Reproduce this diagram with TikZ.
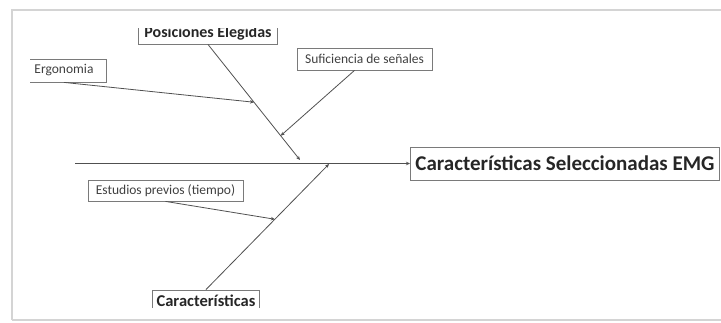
\documentclass[tikz,border=0pt]{standalone}
\usepackage{fontspec}
\setmainfont{Carlito}
\usepackage{xcolor}
\usetikzlibrary{arrows.meta,calc}
\definecolor{framegray}{HTML}{D4D4D4}
\definecolor{linegray}{HTML}{505050}
\definecolor{boxgray}{HTML}{7A7A7A}

\begin{document}
\begin{tikzpicture}[x=1pt,y=-1pt,
    causa/.style={draw=boxgray,line width=0.8pt,inner sep=0pt,font=\fontsize{13.5}{15}\selectfont,text=black!75},
    grupo/.style={draw=boxgray,line width=0.9pt,inner sep=0pt,font=\fontsize{16}{17}\selectfont\bfseries,text=black!85},
    efecto/.style={draw=boxgray,line width=0.9pt,inner sep=0pt,font=\fontsize{21}{23}\selectfont\bfseries,text=black!85},
    hueso/.style={draw=linegray,line width=0.8pt,-{Stealth[length=4pt,width=3.5pt]}}]
\useasboundingbox (0,0) rectangle (721,322);
% marco de la captura
\draw[framegray,line width=1.6pt] (721,10) -- (12,10) -- (12,320);
\draw[framegray,line width=1.2pt] (12,320) -- (721,320);
\begin{scope}
\clip (30,28) rectangle (721,307);
% cajas
\node[grupo,minimum width=139pt,minimum height=22pt] (pos) at (208,33) {Posiciones Elegidas};
\node[causa,minimum width=84pt,minimum height=23pt] (ergo) at (64,70.5) {Ergonomia};
\node[causa,minimum width=135pt,minimum height=22pt] (suf) at (364.5,59) {Suficiencia de señales};
\node[causa,minimum width=155pt,minimum height=21pt] (est) at (165.5,190.5) {Estudios previos (tiempo)};
\node[grupo,minimum width=107pt,minimum height=22pt,font=\fontsize{16.5}{18}\selectfont\bfseries] (car) at (206,301) {Características};
\node[efecto,minimum height=33pt,anchor=west,inner xsep=5pt] (emg) at (410,163.5) {Características Seleccionadas EMG\hspace{30pt}};
% espina y huesos
\coordinate (cola) at (75,163.5);
\coordinate (p1) at (300,160);
\coordinate (p2) at (329,164);
\draw[hueso] (cola) -- (emg.west);
\draw[hueso] (pos.south) -- (p1);
\draw[hueso] (car.north) -- (p2);
\draw[hueso] (ergo.south) -- ($(pos.south)!0.5!(p1)$);
\draw[hueso] ([xshift=-10pt]suf.south) -- ($(pos.south)!0.79!(p1)$);
\draw[hueso] (est.south) -- ($(car.north)!0.56!(p2)$);
\end{scope}
\end{tikzpicture}
\end{document}
